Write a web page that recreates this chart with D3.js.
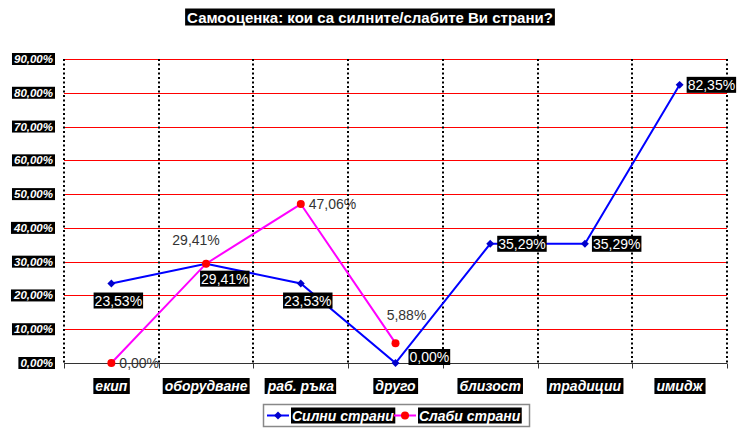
<!DOCTYPE html>
<html lang="bg">
<head>
<meta charset="UTF-8">
<title>Самооценка</title>
<script src="https://cdn.jsdelivr.net/npm/d3@7"></script>
<style>
  body { margin: 0; background: #fff; }
  text { font-family: "Liberation Sans", Arial, sans-serif; }
</style>
</head>
<body>
<div id="chart"></div>
<script>
// data
const categories = ["екип", "оборудване", "раб. ръка", "друго", "близост", "традиции", "имидж"];
const strongValues = [23.53, 29.41, 23.53, 0, 35.29, 35.29, 82.35];
const weakValues = [0, 29.41, 47.06, 5.88, null, null, null];
const yTicks = [0, 10, 20, 30, 40, 50, 60, 70, 80, 90];
const seriesNames = ["Силни страни", "Слаби страни"];

// label placement per point (where the value text sits)
const strongPlace = ["b", "br", "b", "ru", "r", "r", "r"];
const weakPlace = ["r", "al", "r", "a", null, null, null];

const W = 740, H = 428;
const plot = { left: 64, right: 727, top: 59, bottom: 363 };

const svg = d3.select("#chart").append("svg")
  .attr("width", W).attr("height", H);

const x = d3.scaleBand().domain(categories).range([plot.left, plot.right]).padding(0);
const y = d3.scaleLinear().domain([0, 90]).range([plot.bottom, plot.top]);
const cx = c => x(c) + x.bandwidth() / 2;

const fmt = v => v.toFixed(2).replace(".", ",") + "%";

// put a black box behind a text node
function boxIt(sel, padX, padY) {
  sel.each(function () {
    const b = this.getBBox();
    d3.select(this.parentNode).insert("rect", () => this)
      .attr("x", b.x - padX).attr("y", b.y - padY)
      .attr("width", b.width + 2 * padX).attr("height", b.height + 2 * padY)
      .attr("fill", "#000");
  });
}

// title
const title = svg.append("g").append("text")
  .attr("x", W / 2).attr("y", 17)
  .attr("text-anchor", "middle").attr("dominant-baseline", "central")
  .attr("font-size", 15).attr("font-weight", "bold").attr("fill", "#fff")
  .text("Самооценка: кои са силните/слабите Ви страни?");
boxIt(title, 2, 0);

// horizontal grid
svg.append("g").selectAll("line")
  .data(yTicks.filter(d => d > 0))
  .join("line")
  .attr("x1", plot.left).attr("x2", plot.right)
  .attr("y1", d => Math.round(y(d)) + 0.5).attr("y2", d => Math.round(y(d)) + 0.5)
  .attr("stroke", "#ff0000").attr("stroke-width", 1);

// vertical dotted separators
const bounds = categories.map(c => x(c)).concat([plot.right]);
svg.append("g").selectAll("line")
  .data(bounds)
  .join("line")
  .attr("x1", d => Math.round(d)).attr("x2", d => Math.round(d))
  .attr("y1", plot.top).attr("y2", plot.bottom)
  .attr("stroke", "#000").attr("stroke-width", 2).attr("stroke-dasharray", "2,2.5");

// x axis
const xAxis = svg.append("g").attr("transform", `translate(0,${plot.bottom + 0.5})`);
xAxis.append("line").attr("x1", plot.left).attr("x2", plot.right)
  .attr("stroke", "#333").attr("stroke-width", 1);
xAxis.selectAll(".tk").data(bounds).join("line")
  .attr("x1", d => Math.round(d) + 0.5).attr("x2", d => Math.round(d) + 0.5)
  .attr("y1", 0).attr("y2", 5).attr("stroke", "#333");

const xLab = svg.append("g").selectAll("g").data(categories).join("g");
xLab.append("text")
  .attr("x", d => cx(d)).attr("y", 386)
  .attr("text-anchor", "middle").attr("dominant-baseline", "central")
  .attr("font-size", 14).attr("font-weight", "bold").attr("font-style", "italic")
  .attr("fill", "#fff").text(d => d)
  .call(boxIt, 2, 0);

// y labels
const yLab = svg.append("g").selectAll("g").data(yTicks).join("g");
yLab.append("text")
  .attr("x", 53).attr("y", d => y(d))
  .attr("text-anchor", "end").attr("dominant-baseline", "central")
  .attr("font-size", 11.5).attr("font-weight", "bold").attr("font-style", "italic")
  .attr("fill", "#fff").text(d => fmt(d))
  .call(boxIt, 2, 0);

// lines
const strongPts = categories.map((c, i) => ({ c, v: strongValues[i], p: strongPlace[i] }));
const weakPts = categories.map((c, i) => ({ c, v: weakValues[i], p: weakPlace[i] }))
  .filter(d => d.v !== null);

const line = d3.line().x(d => cx(d.c)).y(d => y(d.v));

svg.append("path").datum(weakPts).attr("d", line)
  .attr("fill", "none").attr("stroke", "#ff00ff").attr("stroke-width", 2);
svg.append("path").datum(strongPts).attr("d", line)
  .attr("fill", "none").attr("stroke", "#0000ff").attr("stroke-width", 2);

// markers
svg.append("g").selectAll("path").data(strongPts).join("path")
  .attr("transform", d => `translate(${cx(d.c)},${y(d.v)})`)
  .attr("d", d3.symbol(d3.symbolDiamond2, 40)())
  .attr("fill", "#0000cc");
svg.append("g").selectAll("circle").data(weakPts).join("circle")
  .attr("cx", d => cx(d.c)).attr("cy", d => y(d.v)).attr("r", 4)
  .attr("fill", "#ff0000");

// data labels
const place = {
  b:  { dx: 7,   dy: 17,  a: "middle" },
  br: { dx: -5,  dy: 15,  a: "start" },
  r:  { dx: 8,   dy: 0,   a: "start" },
  ru: { dx: 14,  dy: -6,  a: "start" },
  al: { dx: -10, dy: -24, a: "middle" },
  a:  { dx: 11,  dy: -28, a: "middle" }
};

const sLab = svg.append("g").selectAll("g").data(strongPts).join("g");
sLab.append("text")
  .attr("x", d => cx(d.c) + place[d.p].dx).attr("y", d => y(d.v) + place[d.p].dy)
  .attr("text-anchor", d => place[d.p].a).attr("dominant-baseline", "central")
  .attr("font-size", 14).attr("fill", "#fff").text(d => fmt(d.v))
  .call(boxIt, 1, 0);

svg.append("g").selectAll("text").data(weakPts).join("text")
  .attr("x", d => cx(d.c) + place[d.p].dx).attr("y", d => y(d.v) + place[d.p].dy)
  .attr("text-anchor", d => place[d.p].a).attr("dominant-baseline", "central")
  .attr("font-size", 14).attr("fill", "#333").text(d => fmt(d.v));

// legend
const leg = svg.append("g");
leg.append("rect").attr("x", 263.5).attr("y", 404.5).attr("width", 266).attr("height", 22)
  .attr("fill", "#fff").attr("stroke", "#888").attr("stroke-width", 1.5);
const legItems = [
  { name: seriesNames[0], color: "#0000ff", mark: "#0000cc", sym: "d", x0: 267 },
  { name: seriesNames[1], color: "#ff00ff", mark: "#ff0000", sym: "c", x0: 394 }
];
const li = leg.selectAll("g").data(legItems).join("g");
li.append("line").attr("x1", d => d.x0).attr("x2", d => d.x0 + 22)
  .attr("y1", 415.5).attr("y2", 415.5).attr("stroke", d => d.color).attr("stroke-width", 2);
li.filter(d => d.sym === "d").append("path")
  .attr("transform", d => `translate(${d.x0 + 11},415.5)`)
  .attr("d", d3.symbol(d3.symbolDiamond2, 40)()).attr("fill", d => d.mark);
li.filter(d => d.sym === "c").append("circle")
  .attr("cx", d => d.x0 + 11).attr("cy", 415.5).attr("r", 4).attr("fill", d => d.mark);
li.append("text").attr("x", d => d.x0 + 25).attr("y", 415.5)
  .attr("dominant-baseline", "central")
  .attr("font-size", 14).attr("font-weight", "bold").attr("font-style", "italic")
  .attr("fill", "#fff").text(d => d.name)
  .call(boxIt, 1, 0);
</script>
</body>
</html>
